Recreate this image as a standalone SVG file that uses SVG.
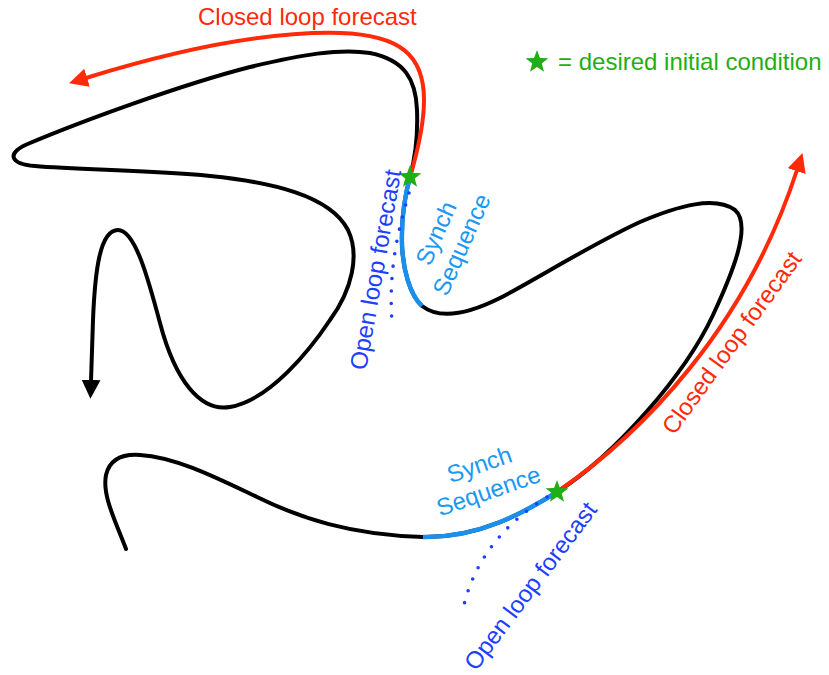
<svg xmlns="http://www.w3.org/2000/svg" xmlns:xlink="http://www.w3.org/1999/xlink" width="829" height="675" viewBox="0 0 829 675">
<style>
.lbl{font-family:"Liberation Sans",Arial,sans-serif;font-size:24px}
.red{fill:#ff2a0a}
.blue{fill:#1d3fff}
.lblue{fill:#1a98f2}
.green{fill:#1fae14}
.traj{fill:none;stroke:#000;stroke-width:4;stroke-linecap:round;stroke-linejoin:round}
.closed{fill:none;stroke:#ff2a0a;stroke-width:4;stroke-linecap:butt}
.synch{fill:none;stroke:#1a90ec;stroke-width:4.5;stroke-linecap:butt}
.dots{fill:none;stroke:#1d3fff;stroke-width:3.6;stroke-linecap:round;stroke-dasharray:0 12.5}
</style>
<defs>
<marker id="ahBlack" markerUnits="userSpaceOnUse" markerWidth="20" markerHeight="20" viewBox="0 -9 18 18" refX="1" refY="0" orient="auto">
<path d="M0,-8.5 L17,0 L0,8.5 z" fill="#000"/>
</marker>
<marker id="ahRed" markerUnits="userSpaceOnUse" markerWidth="20" markerHeight="20" viewBox="0 -9 18 18" refX="1" refY="0" orient="auto">
<path d="M0,-8.5 L17,0 L0,8.5 z" fill="#ff2a0a"/>
</marker>
<polygon id="star" points="0,-12 2.94,-4.05 11.41,-3.71 4.76,1.55 7.05,9.71 0,5 -7.05,9.71 -4.76,1.55 -11.41,-3.71 -2.94,-4.05" fill="#1fae14"/>
</defs>
<rect width="829" height="675" fill="#fff"/>

<g id="connectors">
<path id="trajectory" class="traj" marker-end="url(#ahBlack)" d="M126,549 C115,520 102,495 106,475 C110,458 125,454 140,455 C175,457 215,477 257,497 C300,518 350,535 423,537 C480,538 525,512 557,492 C615,455 685,375 713,315 C733,272 752,225 735,210 C715,196 680,205 640,222 C590,245 535,280 500,298 C470,313 440,320 422,306 C410,295 403,270 402,245 C401,215 405,195 410,177 C416,155 418,135 417,110 C416,80 405,60 370,53 C340,48 300,55 250,67 C180,85 80,122 30,143 C5,153 10,164 35,166 C80,170 150,170 210,176 C270,182 330,195 348,230 C360,255 352,290 330,320 C310,350 270,400 230,407 C200,412 175,380 160,323 C148,278 135,230 118,230 C100,230 95,270 93,320 L91,381"/>
<path id="synch-bottom" class="synch" d="M423,537 C480,538 525,512 557,492"/>
<path id="synch-top" class="synch" d="M422,306 C410,295 403,270 402,245 C401,215 405,195 410,177"/>
<path id="open-top" class="dots" d="M409,193 C400,225 388,265 392,322"/>
<path id="open-bottom" class="dots" d="M547,497 C510,520 475,555 463,609"/>
<path id="closed-top" class="closed" marker-end="url(#ahRed)" d="M410,177 C418,150 424,125 424,100 C424,55 400,35 340,33 C260,31 170,52 86,78"/>
<path id="closed-right" class="closed" marker-end="url(#ahRed)" d="M557,492 C640,435 745,330 797,170"/>
</g>

<g id="ic-top"><use xlink:href="#star" href="#star" x="410" y="177"/></g>
<g id="ic-bottom"><use xlink:href="#star" href="#star" x="557" y="492"/></g>

<g id="labels">
<text class="lbl red" x="198" y="25">Closed loop forecast</text>
<text class="lbl red" transform="translate(674,436) rotate(-54)">Closed loop forecast</text>
<text class="lbl blue" transform="translate(366,371) rotate(-80)">Open loop forecast</text>
<text class="lbl blue" transform="translate(476,672) rotate(-53)">Open loop forecast</text>
<g class="lbl lblue" text-anchor="middle" transform="translate(449,239) rotate(-66)">
<text x="0" y="-6">Synch</text>
<text x="0" y="22">Sequence</text>
</g>
<g class="lbl lblue" text-anchor="middle" transform="translate(484,478) rotate(-19)">
<text x="0" y="-6">Synch</text>
<text x="0" y="22">Sequence</text>
</g>
</g>

<g id="legend">
<use xlink:href="#star" href="#star" x="537" y="62"/>
<text class="lbl green" x="558" y="70">= desired initial condition</text>
</g>
</svg>
